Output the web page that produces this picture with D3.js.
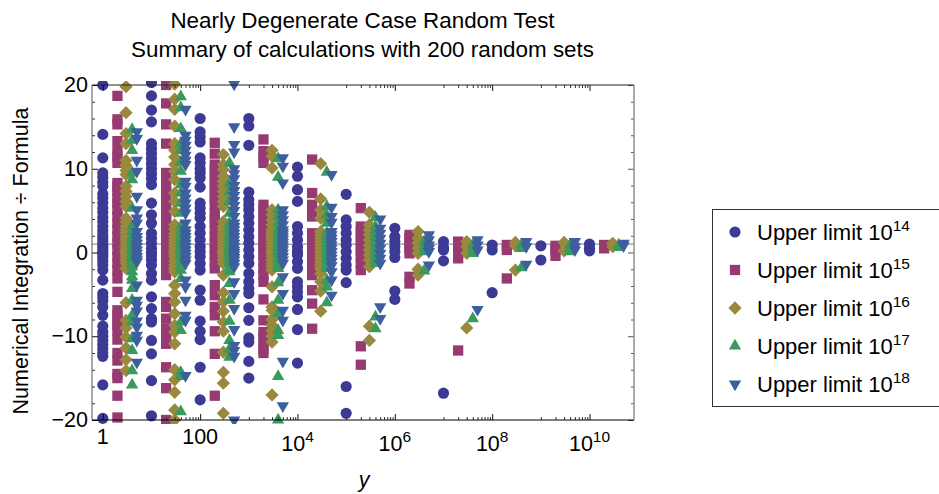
<!DOCTYPE html>
<html>
<head>
<meta charset="utf-8">
<script src="https://cdn.jsdelivr.net/npm/d3@7"></script>
<style>
    html, body { margin: 0; padding: 0; background: #fff; }
    svg { display: block; font-family: "Liberation Sans", Arial, sans-serif; }
</style>
</head>
<body>
<div id="chart"></div>
<script>
// each series: one list of read-off values per decade k, drawn at multiplier * 10^k
const decades = [0, 1, 2, 3, 4, 5, 6, 7, 8, 9, 10];
const seriesNames = ["14", "15", "16", "17", "18"];
const multipliers = [1, 2, 3, 4, 5];
const seriesColors = ["#3d3a96", "#983a72", "#98893d", "#399a5c", "#3d5f9e"];

const limit14 = [
    [20, 14.1, 11.3, 9.5, 9, 8.4, 7.9, 7, 6.5, 5.9, 5.3, 4.8, 4.2, 3.7, 3.1, 2.6, 2.1, 1.7, 1.3, 0.9, 0.6, 0.3, 0, -0.3, -0.6, -1, -1.5, -2.1, -3.3, -4.9, -5.3, -5.8, -6.5, -7.5, -8.8, -9.5, -10, -10.5, -11, -11.5, -12, -12.4, -15.8, -19.8],
    [20.3, 18.7, 17, 15.6, 13, 12.4, 11.8, 11.2, 10.6, 10, 9.4, 8.8, 8.1, 5.9, 4.5, 3.5, 2.3, 1.7, 1.1, 0.5, 0, -0.4, -0.9, -1.5, -2.5, -3.3, -5.3, -6.7, -7.9, -8.3, -10.5, -12.1, -15.3, -19.5],
    [16, 14.4, 13.8, 13.2, 11.3, 10.7, 10, 9.5, 8.9, 7.8, 5.9, 5.3, 4.7, 4.1, 3.1, 2.3, 1.5, 0.7, 0.1, -0.5, -1.3, -2.1, -4.5, -5.7, -8.2, -9.4, -10.4, -13.7, -17.6],
    [16, 15.1, 12.8, 7.2, 6.3, 5.7, 5.1, 4.3, 3.5, 2.7, 1.9, 1.1, 0.3, -0.5, -1.3, -2.5, -3.5, -4.3, -4.9, -6.6, -8.1, -10.2, -10.7, -13, -15],
    [10.2, 9.1, 7.5, 6.1, 3.1, 2.3, 1.5, 0.7, 0.1, -0.3, -1.1, -1.9, -3.5, -4.1, -4.7, -5.3, -6.8, -9.2, -13.2],
    [6.95, 3.9, 3.1, 2.3, 1.5, 0.9, 0.1, -0.7, -1.5, -2.1, -3.6, -16, -19.2],
    [2.9, 1.9, 1.3, 0.7, 0.1, -0.6, -4.6, -5.6],
    [1.3, 0.6, 0.3, -1, -16.8],
    [0.9, 0.3, -4.8],
    [0.8, -0.9],
    [1, 0.5, 0.2]
];
const limit15 = [
    [18.7, 15.9, 15.3, 13.3, 12.1, 11.5, 10.7, 8.3, 7.9, 7.3, 6.5, 5.9, 5.1, 4.3, 3.5, 2.7, 1.9, 1.1, 0.3, -0.5, -1.3, -2.1, -3.1, -4.7, -6.9, -7.5, -8.1, -8.7, -9.3, -10.4, -12, -12.9, -14.5, -15, -17.1, -19.7],
    [20, 17.8, 15.3, 13, 9.5, 9, 7.8, 7.3, 6.7, 6.1, 5.5, 4.9, 4.3, 3.7, 3.1, 2.3, 1.5, 0.7, 0, -0.5, -1.3, -2.1, -2.7, -5.9, -6.5, -7.9, -9.1, -9.7, -10.3, -10.9, -13.7, -16.2, -20],
    [13.1, 11.8, 10.5, 9.9, 9.3, 8.7, 8.1, 7.5, 6.9, 6.3, 5.7, 4.7, 4.1, 3.5, 2.7, 1.9, 1.1, 0.3, -0.3, -1.1, -1.9, -3.9, -5.1, -6.5, -7.5, -9.4, -12.1, -17.1],
    [13.5, 12.1, 11.4, 10.7, 5.7, 5.1, 4.5, 3.9, 3.3, 2.7, 2.1, 1.5, 0.9, 0.3, -0.3, -1.1, -1.9, -2.7, -3.5, -5.6, -8.1, -9.5, -10.1, -10.9, -11.5, -12],
    [11.1, 7.1, 5.7, 4.9, 4.3, 2.3, 1.5, 0.7, 0.1, -0.3, -1.1, -1.9, -2.7, -4.5, -6.1, -9.1],
    [5.3, 3.1, 2.5, 1.9, 1.3, 0.7, 0.1, -0.5, -1.3, -2.1, -11.2, -13.4],
    [2.1, 1.7, 1.1, 0.5, -0.1, -2.9, -3.7],
    [1.3, 0.5, -0.1, -0.7, -11.7],
    [0.9, 0.3, -3.1],
    [0.8, 0.3, -0.4],
    [0.9, 0.5]
];
const limit16 = [
    [19.8, 16.7, 14.2, 13, 11, 10.4, 9.8, 9.3, 7.9, 7.3, 6.7, 6.1, 5.5, 4.1, 3.6, 3.1, 2.7, 2.3, 1.9, 1.5, 1.1, 0.7, 0.3, 0, -0.2, -0.5, -0.9, -1.3, -1.9, -6, -8.1, -9, -10.1, -11.4, -12.8, -14.1],
    [20.1, 18.3, 17.1, 15.1, 13, 12.2, 11.4, 10.5, 9.7, 8.7, 7.1, 6.1, 4.9, 3.3, 2.8, 2.3, 1.9, 1.5, 1.1, 0.7, 0.3, 0, -0.2, -0.5, -1, -1.5, -1.9, -2.3, -3.9, -4.9, -5.9, -7.3, -8.7, -9.5, -10.9, -14, -15.2, -16.7, -18.8, -20],
    [11.7, 10.5, 9.9, 9.1, 8.5, 7.9, 7.3, 6.7, 6.1, 5.5, 3.7, 3.1, 2.7, 2.3, 1.9, 1.5, 1.1, 0.7, 0.3, 0, -0.2, -0.5, -0.9, -1.3, -2.7, -4.8, -5.9, -7, -8.3, -9.4, -11.9, -14.3, -15.6, -19.2],
    [12.2, 11.5, 10.1, 5.1, 4.5, 3.9, 3.3, 2.7, 2.4, 2.1, 1.8, 1.5, 1.1, 0.7, 0.3, 0, -0.2, -0.5, -0.9, -1.3, -1.7, -2.1, -4.1, -6.5, -6.9, -8, -8.7, -9.3, -10, -10.7, -17],
    [10.6, 6.4, 5.1, 4.1, 2.5, 2.1, 1.7, 1.3, 0.9, 0.5, 0.1, -0.3, -0.7, -1.1, -1.5, -1.9, -2.5, -3.5, -4.6, -7],
    [4.8, 3.3, 2.7, 2.1, 1.5, 0.9, 0.3, -0.3, -0.9, -1.7, -8.8, -10.5],
    [2.5, 1.7, 1.1, 0.5, -0.1, -2, -2.7],
    [1.3, 0.7, -0.1, -9],
    [1.2, 0.8, -2.1],
    [1.2, 0.2],
    [1.1, 0.7]
];
const limit17 = [
    [14.7, 13.4, 12.2, 9.5, 8.7, 5.3, 3.1, 2.5, 1.9, 1.5, 1.1, 0.7, 0.3, -0.1, -0.5, -0.9, -1.3, -1.7, -2.3, -2.9, -3.3, -4.3, -5.7, -7.5, -8.3, -10.3, -11.7, -14.1, -15.8],
    [18.6, 17.3, 14.8, 13, 12.2, 10.8, 9.7, 8.1, 7.1, 5.9, 4.7, 3.1, 2.5, 1.9, 1.5, 1.1, 0.7, 0.3, -0.1, -0.5, -1.1, -1.6, -2.1, -3.1, -8.3, -9.3, -14.3, -14.8, -19],
    [10.7, 8.3, 7.3, 6.1, 4.7, 3.5, 2.9, 2.3, 1.9, 1.5, 1.1, 0.7, 0.4, 0.1, -0.2, -0.5, -0.9, -1.3, -1.8, -2.3, -3.7, -5.7, -8.2, -10.5, -11.5, -12.5],
    [11.2, 9, 5.1, 4.3, 3.5, 2.7, 2.3, 1.9, 1.5, 1.1, 0.6, 0.1, -0.3, -0.7, -1.1, -1.5, -1.9, -3.6, -5.7, -7.3, -9.3, -9.9, -14.8, -20],
    [9.6, 5.5, 4.5, 3.5, 2.3, 1.9, 1.5, 1.1, 0.7, 0.3, 0, -0.3, -0.7, -1.1, -1.5, -1.9, -3.3, -4.1, -6],
    [4.2, 3.1, 2.7, 2.3, 1.9, 1.5, 1.1, 0.7, 0.3, -0.1, -0.5, -0.9, -1.3, -7.7, -9.1],
    [1.3, 0.7, 0.1, -2.2],
    [0.9, 0.3, -0.1, -7.9],
    [0.9, 0.5, -1.8],
    [0.9, 0.5, 0.1],
    [0.9, 0.6]
];
const limit18 = [
    [14.4, 13.6, 11, 9.7, 6.7, 5.1, 4.1, 3.5, 2.5, 1.9, 1.5, 1.1, 0.7, 0.3, -0.1, -0.5, -0.8, -1.1, -3.9, -5.7, -6.3, -7, -8.2, -8.9, -9.9, -10.5, -13.1],
    [17.1, 14, 13.4, 12.8, 12.2, 11.6, 11, 10.5, 8.5, 7.9, 7.1, 6.5, 5.9, 5.3, 4.7, 3.5, 2.7, 2.3, 1.9, 1.5, 1.1, 0.7, 0.3, -0.1, -0.5, -0.9, -1.3, -3.3, -4.1, -5.7, -7.5, -8.1, -14.7],
    [20.1, 15, 12.9, 12, 10, 9.4, 8.8, 8, 7.4, 6.8, 6.2, 5.6, 5, 4.3, 3.5, 3.1, 2.7, 2.3, 1.9, 1.5, 1.1, 0.7, 0.3, 0, -0.3, -0.6, -0.9, -1.3, -1.7, -3.5, -4.9, -6.7, -9.2, -11.1, -11.7, -12.4, -20],
    [11.3, 10.3, 8.3, 5.1, 4.5, 3.9, 3.3, 2.7, 2.4, 2.1, 1.8, 1.5, 1.2, 0.9, 0.6, 0.3, -0.1, -0.5, -0.9, -1.3, -2.9, -4.9, -6.9, -8.1, -13, -18.3],
    [9.3, 5.4, 4.3, 3.6, 2.5, 2.1, 1.7, 1.3, 0.9, 0.5, 0.1, -0.3, -0.7, -1.1, -1.6, -2.3, -3.3, -5.1],
    [4, 2.9, 2.3, 1.7, 1.1, 0.5, -0.1, -0.7, -1.3, -6.5, -7.9],
    [2.1, 1.5, 0.9, 0.5, 0.1, -1.5],
    [1.5, 0.9, 0.3, -6.8],
    [1.3, 0.7, -1.4],
    [1.3, 0.7, 0.3],
    [1.1, 0.8]
];
const allSeries = [limit14, limit15, limit16, limit17, limit18];

const majorX = [1, 1e2, 1e4, 1e6, 1e8, 1e10];
const minorMultipliers = [1, 2, 3, 4, 5, 6, 7, 8, 9];
const minorDecades = [1, 3, 5, 7, 9];
const majorY = [-20, -10, 0, 10, 20];
const minorY = [-18, -16, -14, -12, -8, -6, -4, -2, 2, 4, 6, 8, 12, 14, 16, 18];

const margin = { top: 85, left: 92, right: 634, bottom: 420 };

const svg = d3.select("#chart")
    .append("svg")
    .attr("width", 939)
    .attr("height", 494);

const xScale = d3.scaleLog()
    .domain([0.6, 8.2e10])
    .range([margin.left, margin.right]);

const yScale = d3.scaleLinear()
    .domain([-20, 20])
    .range([margin.bottom, margin.top]);

// the line at ratio 1 sits behind the marks
svg.append("line")
    .attr("x1", margin.left).attr("x2", margin.right)
    .attr("y1", yScale(1)).attr("y2", yScale(1))
    .attr("stroke", "#9a9a9a")
    .attr("stroke-width", 1.2);

svg.append("clipPath")
    .attr("id", "plot-clip")
    .append("rect")
    .attr("x", margin.left - 4)
    .attr("y", margin.top - 4)
    .attr("width", margin.right - margin.left + 8)
    .attr("height", margin.bottom - margin.top + 8);

const shapes = [
    { type: d3.symbolCircle, size: 98, rotate: 0 },
    { type: d3.symbolSquare, size: 106, rotate: 0 },
    { type: d3.symbolSquare, size: 88, rotate: 45 },
    { type: d3.symbolTriangle, size: 66, rotate: 0 },
    { type: d3.symbolTriangle, size: 66, rotate: 180 }
];

const markPath = i => d3.symbol().type(shapes[i].type).size(shapes[i].size)();

const points = allSeries.map((series, i) =>
    series.flatMap((values, k) =>
        values.map(v => ({ x: multipliers[i] * Math.pow(10, decades[k]), y: v }))));

const marks = svg.append("g").attr("clip-path", "url(#plot-clip)");

points.forEach((pts, i) => {
    marks.append("g")
        .attr("class", "series")
        .selectAll("path")
        .data(pts)
        .join("path")
        .attr("d", markPath(i))
        .attr("fill", seriesColors[i])
        .attr("transform", d => `translate(${xScale(d.x)},${yScale(d.y)}) rotate(${shapes[i].rotate})`);
});

// frame and ticks
const frameColor = "#222";

function cleanAxis(g, tickColor) {
    g.select(".domain").remove();
    g.selectAll(".tick line").attr("stroke", tickColor).attr("stroke-width", 1);
}

const minorXValues = minorDecades.flatMap(k => minorMultipliers.map(m => m * Math.pow(10, k)));

svg.append("g")
    .attr("transform", `translate(0,${margin.bottom})`)
    .call(d3.axisTop(xScale).tickValues(minorXValues).tickSize(3).tickFormat(""))
    .call(g => cleanAxis(g, "#333"));
svg.append("g")
    .attr("transform", `translate(0,${margin.bottom})`)
    .call(d3.axisTop(xScale).tickValues(majorX).tickSize(6).tickFormat(""))
    .call(g => cleanAxis(g, "#111"));
svg.append("g")
    .attr("transform", `translate(0,${margin.top})`)
    .call(d3.axisBottom(xScale).tickValues(minorXValues).tickSize(3).tickFormat(""))
    .call(g => cleanAxis(g, "#333"));
svg.append("g")
    .attr("transform", `translate(0,${margin.top})`)
    .call(d3.axisBottom(xScale).tickValues(majorX).tickSize(6).tickFormat(""))
    .call(g => cleanAxis(g, "#111"));

svg.append("g")
    .attr("transform", `translate(${margin.left},0)`)
    .call(d3.axisRight(yScale).tickValues(minorY).tickSize(3).tickFormat(""))
    .call(g => cleanAxis(g, "#333"));
svg.append("g")
    .attr("transform", `translate(${margin.left},0)`)
    .call(d3.axisRight(yScale).tickValues(majorY).tickSize(6).tickFormat(""))
    .call(g => cleanAxis(g, "#111"));
svg.append("g")
    .attr("transform", `translate(${margin.right},0)`)
    .call(d3.axisLeft(yScale).tickValues(minorY).tickSize(3).tickFormat(""))
    .call(g => cleanAxis(g, "#555"));
svg.append("g")
    .attr("transform", `translate(${margin.right},0)`)
    .call(d3.axisLeft(yScale).tickValues(majorY).tickSize(6).tickFormat(""))
    .call(g => cleanAxis(g, "#555"));

// frame lines
svg.append("line").attr("x1", margin.left).attr("x2", margin.right).attr("y1", margin.top).attr("y2", margin.top).attr("stroke", frameColor).attr("stroke-width", 1);
svg.append("line").attr("x1", margin.left).attr("x2", margin.right).attr("y1", margin.bottom).attr("y2", margin.bottom).attr("stroke", "#000").attr("stroke-width", 1.2);
svg.append("line").attr("x1", margin.left).attr("x2", margin.left).attr("y1", margin.top).attr("y2", margin.bottom).attr("stroke", "#555").attr("stroke-width", 1);
svg.append("line").attr("x1", margin.right).attr("x2", margin.right).attr("y1", margin.top).attr("y2", margin.bottom).attr("stroke", "#888").attr("stroke-width", 1.4);

// tick labels
svg.selectAll(".y-label")
    .data(majorY)
    .join("text")
    .attr("class", "y-label")
    .attr("x", margin.left - 4)
    .attr("y", d => yScale(d) + 7)
    .attr("text-anchor", "end")
    .attr("font-size", 21.5)
    .text(d => d < 0 ? "\u2212" + Math.abs(d) : d);

const xLabels = svg.selectAll(".x-label")
    .data(majorX)
    .join("text")
    .attr("class", "x-label")
    .attr("x", d => xScale(d))
    .attr("y", 444)
    .attr("text-anchor", "middle")
    .attr("font-size", 21.5);

xLabels.each(function (d) {
    const el = d3.select(this);
    if (d < 1e4) {
        el.text(d);
    } else {
        el.attr("y", 451);
        el.append("tspan").text("10");
        el.append("tspan")
            .attr("font-size", 15.5)
            .attr("dy", -9)
            .text(Math.round(Math.log10(d)));
    }
});

// titles
const titleLines = ["Nearly Degenerate Case Random Test", "Summary of calculations with 200 random sets"];
svg.selectAll(".title")
    .data(titleLines)
    .join("text")
    .attr("class", "title")
    .attr("x", 362.5)
    .attr("y", (d, i) => 28 + i * 29)
    .attr("text-anchor", "middle")
    .attr("font-size", 22.4)
    .text(d => d);

svg.append("text")
    .attr("transform", "translate(28,261) rotate(-90)")
    .attr("text-anchor", "middle")
    .attr("font-size", 21.5)
    .text("Numerical Integration \u00f7 Formula");

svg.append("text")
    .attr("x", 364)
    .attr("y", 487)
    .attr("text-anchor", "middle")
    .attr("font-size", 21.5)
    .attr("font-style", "italic")
    .text("y");

// legend, the box runs off the right edge of the picture
svg.append("rect")
    .attr("x", 712.5)
    .attr("y", 209.5)
    .attr("width", 240)
    .attr("height", 197)
    .attr("fill", "#fff")
    .attr("stroke", "#333")
    .attr("stroke-width", 1);

const legendY = d3.scalePoint()
    .domain(seriesNames)
    .range([232, 384]);

const legendRows = svg.selectAll(".legend-row")
    .data(seriesNames)
    .join("g")
    .attr("class", "legend-row")
    .attr("transform", d => `translate(0,${legendY(d)})`);

legendRows.append("path")
    .attr("d", (d, i) => markPath(i))
    .attr("fill", (d, i) => seriesColors[i])
    .attr("transform", (d, i) => `translate(735,0) rotate(${shapes[i].rotate})`);

const legendText = legendRows.append("text")
    .attr("x", 757)
    .attr("y", 8)
    .attr("font-size", 22);
legendText.append("tspan").text("Upper limit 10");
legendText.append("tspan")
    .attr("font-size", 15.5)
    .attr("dy", -9)
    .text(d => d);
</script>
</body>
</html>
